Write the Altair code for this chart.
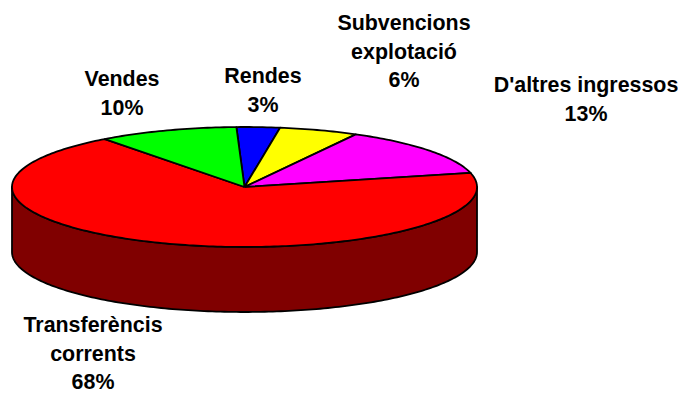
import math
import altair as alt
import pandas as pd

names = ["Rendes", "Subvencions explotació", "D'altres ingressos", "Transferèncis corrents", "Vendes"]
shares = [3.0, 5.5, 13.3, 68.5, 9.7]
colors = ["#0000FF", "#FFFF00", "#FF00FF", "#FF0000", "#00FF00"]
label_lines = [["Rendes", "3%"], ["Subvencions", "explotació", "6%"], ["D'altres ingressos", "13%"],
               ["Transferèncis", "corrents", "68%"], ["Vendes", "10%"]]
label_x = [263, 404, 586, 93, 122]
label_y = [77, 24, 86, 326, 80]

START_DEG = -2.0
W, H = 670, 386
CX, CY, RX, RY, DEPTH = 244.5 - 8, 187 - 8, 232.5, 60, 65
LINE_STEP = 28.5

x_scale = alt.Scale(domain=[-CX / RX, (W - CX) / RX], range=[0, W], nice=False, zero=False)
y_scale = alt.Scale(domain=[CY / RY, (CY - H) / RY], range=[0, H], nice=False, zero=False)
xe = alt.X("x:Q", scale=x_scale, axis=None)
ye = alt.Y("y:Q", scale=y_scale, axis=None)

rows = []
a = START_DEG
for name, share in zip(names, shares):
    sweep = share * 3.6
    steps = max(4, int(sweep))
    i = 0
    rows.append({"name": name, "i": i, "x": 0.0, "y": 0.0}); i += 1
    for k in range(steps + 1):
        t = math.radians(a + sweep * k / steps)
        rows.append({"name": name, "i": i, "x": math.sin(t), "y": math.cos(t)}); i += 1
    rows.append({"name": name, "i": i, "x": 0.0, "y": 0.0})
    a += sweep
slices = pd.DataFrame(rows)

drop = DEPTH / RY
wall_rows = []
for d in range(90, 271):
    t = math.radians(d)
    wall_rows.append({"x": math.sin(t), "y": math.cos(t) - drop})
for d in range(270, 89, -1):
    t = math.radians(d)
    wall_rows.append({"x": math.sin(t), "y": math.cos(t)})
wall_rows.append(wall_rows[0])
wall = pd.DataFrame(wall_rows)
wall["i"] = range(len(wall))

wall_layer = alt.Chart(wall).mark_line(fill="#800000", stroke="#000000", strokeWidth=1.8, strokeJoin="round").encode(
    x=xe, y=ye, order=alt.Order("i:Q"))

slice_layer = alt.Chart(slices).mark_line(stroke="#000000", strokeWidth=1.8, strokeJoin="round").encode(
    x=xe, y=ye,
    fill=alt.Fill("name:N", scale=alt.Scale(domain=names, range=colors), legend=None),
    order=alt.Order("i:Q"),
)

labels = pd.DataFrame([
    {"line": line, "px": lx, "py": ly + j * LINE_STEP}
    for lines, lx, ly in zip(label_lines, label_x, label_y)
    for j, line in enumerate(lines)
])
text_layer = alt.Chart(labels).mark_text(
    font="Liberation Sans", fontSize=21.4, fontWeight="bold", color="#000000", align="center", baseline="middle"
).encode(
    x=alt.X("px:Q", scale=alt.Scale(domain=[8, 8 + W], range=[0, W]), axis=None),
    y=alt.Y("py:Q", scale=alt.Scale(domain=[8, 8 + H], range=[0, H]), axis=None),
    text="line:N",
)

chart = alt.layer(wall_layer, slice_layer, text_layer).resolve_scale(x="independent", y="independent").properties(
    width=W, height=H, padding=0, autosize=alt.AutoSizeParams(type="none"), background="#FFFFFF"
).configure_view(stroke=None)
chart.save("out.html", embed_options={"renderer": "svg", "actions": False})
